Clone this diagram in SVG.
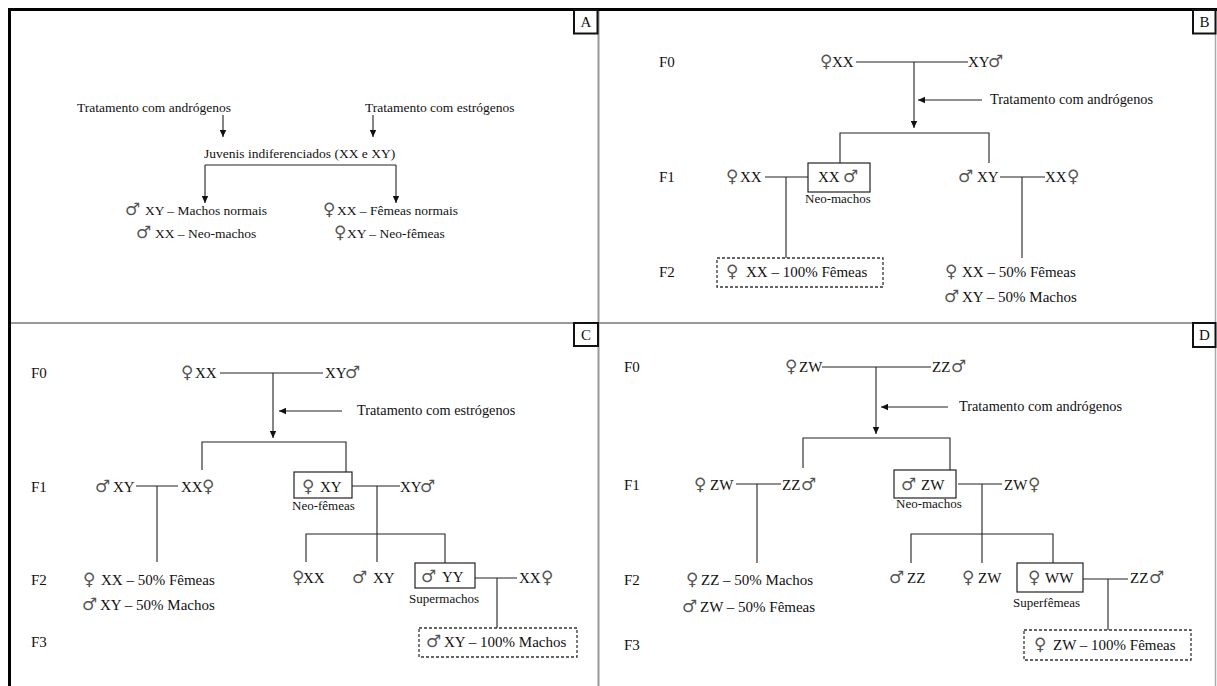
<svg xmlns="http://www.w3.org/2000/svg" width="1217" height="686" viewBox="0 0 1217 686">
<style>
.t{font-family:"Liberation Serif","Times New Roman",serif;font-size:15px;fill:#111}
.a{font-size:13.5px}
.tr{font-size:14.3px}
.sm{font-size:13px}
.sy{font-family:"DejaVu Sans",sans-serif;font-size:17px;fill:#555}
.ln{stroke:#222;stroke-width:1.1;fill:none}
.bx{fill:#fff;stroke:#222;stroke-width:1.2}
.db{fill:none;stroke:#333;stroke-width:1.3;stroke-dasharray:3 2}
.lb{fill:#fff;stroke:#111;stroke-width:2}
.lt{font-family:"Liberation Serif","Times New Roman",serif;font-size:15px;fill:#111;text-anchor:middle}
.fr{stroke:#999;stroke-width:2;fill:none}
</style>
<defs>
<marker id="ah" viewBox="0 0 7 7" refX="7" refY="3.5" markerWidth="7" markerHeight="7" markerUnits="userSpaceOnUse" orient="auto"><path d="M0,0.3 L7,3.5 L0,6.7 z" fill="#111"/></marker>
</defs>
<rect width="1217" height="686" fill="#fff"/>
<g id="frame">
<line class="fr" x1="598.5" y1="9" x2="598.5" y2="686"/>
<line class="fr" x1="9" y1="323" x2="1216" y2="323"/>
<line x1="1215.5" y1="9" x2="1215.5" y2="686" stroke="#aaa" stroke-width="1.5"/>
<line x1="8" y1="9.5" x2="1217" y2="9.5" stroke="#000" stroke-width="3"/>
<line x1="9.5" y1="8" x2="9.5" y2="686" stroke="#000" stroke-width="3"/>
</g>
<g id="connectors">
<!-- A -->
<line class="ln" x1="223" y1="115" x2="223" y2="137" marker-end="url(#ah)"/>
<line class="ln" x1="373" y1="115" x2="373" y2="137" marker-end="url(#ah)"/>
<line class="ln" x1="205" y1="165" x2="396" y2="165"/>
<line class="ln" x1="205" y1="165" x2="205" y2="203" marker-end="url(#ah)"/>
<line class="ln" x1="396" y1="165" x2="396" y2="203" marker-end="url(#ah)"/>
<!-- B -->
<line class="ln" x1="856" y1="62" x2="968" y2="62"/>
<line class="ln" x1="914" y1="62" x2="914" y2="128" marker-end="url(#ah)"/>
<line class="ln" x1="982" y1="100" x2="918" y2="100" marker-end="url(#ah)"/>
<path class="ln" d="M840,163 V133 H989 V163"/>
<line class="ln" x1="765" y1="177" x2="808" y2="177"/>
<line class="ln" x1="786" y1="177" x2="786" y2="258"/>
<line class="ln" x1="1000" y1="177" x2="1045" y2="177"/>
<line class="ln" x1="1022" y1="177" x2="1022" y2="258"/>
<!-- C -->
<line class="ln" x1="220" y1="373" x2="323" y2="373"/>
<line class="ln" x1="273" y1="373" x2="273" y2="438" marker-end="url(#ah)"/>
<line class="ln" x1="342" y1="411" x2="279" y2="411" marker-end="url(#ah)"/>
<path class="ln" d="M202,470 V442 H346 V472"/>
<line class="ln" x1="136" y1="486" x2="178" y2="486"/>
<line class="ln" x1="157" y1="486" x2="157" y2="562"/>
<line class="ln" x1="352" y1="486" x2="400" y2="486"/>
<line class="ln" x1="377" y1="486" x2="377" y2="562"/>
<path class="ln" d="M306,562 V534 H445 V563"/>
<line class="ln" x1="475" y1="578" x2="517" y2="578"/>
<line class="ln" x1="497" y1="578" x2="497" y2="628"/>
<!-- D -->
<line class="ln" x1="822" y1="367" x2="931" y2="367"/>
<line class="ln" x1="876" y1="367" x2="876" y2="434" marker-end="url(#ah)"/>
<line class="ln" x1="948" y1="407" x2="881" y2="407" marker-end="url(#ah)"/>
<path class="ln" d="M803,468 V438 H950 V470"/>
<line class="ln" x1="736" y1="484" x2="781" y2="484"/>
<line class="ln" x1="757" y1="484" x2="757" y2="563"/>
<line class="ln" x1="958" y1="484" x2="1002" y2="484"/>
<line class="ln" x1="982" y1="484" x2="982" y2="563"/>
<path class="ln" d="M911,563 V534 H1053 V563"/>
<line class="ln" x1="1083" y1="579" x2="1128" y2="579"/>
<line class="ln" x1="1108" y1="579" x2="1108" y2="630"/>
</g>
<g id="labelA"><rect class="lb" x="574" y="10" width="23.5" height="23.5"/><text class="lt" x="586" y="27">A</text></g>
<g id="labelB"><rect class="lb" x="1193" y="10" width="22.5" height="23.5"/><text class="lt" x="1204.5" y="27">B</text></g>
<g id="labelC"><rect class="lb" x="574" y="323" width="24" height="23"/><text class="lt" x="586" y="340">C</text></g>
<g id="labelD"><rect class="lb" x="1193" y="323" width="22.5" height="24"/><text class="lt" x="1204.5" y="340">D</text></g>
<!-- Panel A -->
<g id="a_trat_andr"><text class="t a" x="77" y="112">Tratamento com andrógenos</text></g>
<g id="a_trat_estr"><text class="t a" x="365" y="112">Tratamento com estrógenos</text></g>
<g id="a_juvenis"><text class="t a" x="204" y="158">Juvenis indiferenciados (XX e XY)</text></g>
<g id="a_machos"><text class="t a" y="215"><tspan class="sy" x="125">♂</tspan><tspan x="145">XY – Machos normais</tspan></text></g>
<g id="a_femeas"><text class="t a" y="215"><tspan class="sy" x="323">♀</tspan><tspan x="337">XX – Fêmeas normais</tspan></text></g>
<g id="a_neomachos"><text class="t a" y="238"><tspan class="sy" x="136">♂</tspan><tspan x="155">XX – Neo-machos</tspan></text></g>
<g id="a_neofemeas"><text class="t a" y="238"><tspan class="sy" x="334">♀</tspan><tspan x="347">XY – Neo-fêmeas</tspan></text></g>
<!-- Panel B -->
<g id="b_F0"><text class="t" x="659" y="67">F0</text></g>
<g id="b_F1"><text class="t" x="659" y="182">F1</text></g>
<g id="b_F2"><text class="t" x="659" y="277">F2</text></g>
<g id="b_f0_fem"><text class="t" y="67"><tspan class="sy" x="820">♀</tspan><tspan x="832">XX</tspan></text></g>
<g id="b_f0_male"><text class="t" y="67"><tspan x="968">XY</tspan><tspan class="sy" x="988">♂</tspan></text></g>
<g id="b_trat"><text class="t tr" x="990" y="104">Tratamento com andrógenos</text></g>
<g id="b_f1_fem"><text class="t" y="182"><tspan class="sy" x="726">♀</tspan><tspan x="740">XX</tspan></text></g>
<g id="b_neomacho"><rect class="bx" x="808" y="163" width="62" height="29"/><text class="t" y="182"><tspan x="818">XX</tspan><tspan class="sy" x="843">♂</tspan></text><text class="t sm" x="805" y="203">Neo-machos</text></g>
<g id="b_f1_male"><text class="t" y="182"><tspan class="sy" x="958">♂</tspan><tspan x="977">XY</tspan></text></g>
<g id="b_f1_fem2"><text class="t" y="182"><tspan x="1045">XX</tspan><tspan class="sy" x="1067">♀</tspan></text></g>
<g id="b_f2_100"><rect class="db" x="717" y="258" width="166" height="29"/><text class="t" y="277"><tspan class="sy" x="726">♀</tspan><tspan x="746">XX – 100% Fêmeas</tspan></text></g>
<g id="b_f2_50f"><text class="t" y="277"><tspan class="sy" x="945">♀</tspan><tspan x="962">XX – 50% Fêmeas</tspan></text></g>
<g id="b_f2_50m"><text class="t" y="302"><tspan class="sy" x="944">♂</tspan><tspan x="962">XY – 50% Machos</tspan></text></g>
<!-- Panel C -->
<g id="c_F0"><text class="t" x="31" y="378">F0</text></g>
<g id="c_F1"><text class="t" x="31" y="492">F1</text></g>
<g id="c_F2"><text class="t" x="31" y="585">F2</text></g>
<g id="c_F3"><text class="t" x="31" y="647">F3</text></g>
<g id="c_f0_fem"><text class="t" y="378"><tspan class="sy" x="181">♀</tspan><tspan x="195">XX</tspan></text></g>
<g id="c_f0_male"><text class="t" y="378"><tspan x="325">XY</tspan><tspan class="sy" x="345">♂</tspan></text></g>
<g id="c_trat"><text class="t tr" x="357" y="415">Tratamento com estrógenos</text></g>
<g id="c_f1_male"><text class="t" y="492"><tspan class="sy" x="95">♂</tspan><tspan x="113">XY</tspan></text></g>
<g id="c_f1_fem"><text class="t" y="492"><tspan x="181">XX</tspan><tspan class="sy" x="202">♀</tspan></text></g>
<g id="c_neofemea"><rect class="bx" x="294" y="472" width="58" height="26"/><text class="t" y="492"><tspan class="sy" x="302">♀</tspan><tspan x="320">XY</tspan></text><text class="t sm" x="292" y="510">Neo-fêmeas</text></g>
<g id="c_f1_male2"><text class="t" y="492"><tspan x="400">XY</tspan><tspan class="sy" x="420">♂</tspan></text></g>
<g id="c_f2_50f"><text class="t" y="585"><tspan class="sy" x="83">♀</tspan><tspan x="101">XX – 50% Fêmeas</tspan></text></g>
<g id="c_f2_50m"><text class="t" y="610"><tspan class="sy" x="82">♂</tspan><tspan x="100">XY – 50% Machos</tspan></text></g>
<g id="c_f2_xx"><text class="t" y="583"><tspan class="sy" x="292">♀</tspan><tspan x="303">XX</tspan></text></g>
<g id="c_f2_xy"><text class="t" y="583"><tspan class="sy" x="352">♂</tspan><tspan x="373">XY</tspan></text></g>
<g id="c_supermacho"><rect class="bx" x="415" y="563" width="60" height="25"/><text class="t" y="582"><tspan class="sy" x="421">♂</tspan><tspan x="442">YY</tspan></text><text class="t sm" x="409" y="603">Supermachos</text></g>
<g id="c_f2_xx2"><text class="t" y="583"><tspan x="519">XX</tspan><tspan class="sy" x="541">♀</tspan></text></g>
<g id="c_f3_100"><rect class="db" x="419" y="628" width="158" height="29"/><text class="t" y="647"><tspan class="sy" x="426">♂</tspan><tspan x="444">XY – 100% Machos</tspan></text></g>
<!-- Panel D -->
<g id="d_F0"><text class="t" x="624" y="372">F0</text></g>
<g id="d_F1"><text class="t" x="624" y="490">F1</text></g>
<g id="d_F2"><text class="t" x="624" y="585">F2</text></g>
<g id="d_F3"><text class="t" x="624" y="650">F3</text></g>
<g id="d_f0_fem"><text class="t" y="372"><tspan class="sy" x="785">♀</tspan><tspan x="799">ZW</tspan></text></g>
<g id="d_f0_male"><text class="t" y="372"><tspan x="932">ZZ</tspan><tspan class="sy" x="951">♂</tspan></text></g>
<g id="d_trat"><text class="t tr" x="959" y="411">Tratamento com andrógenos</text></g>
<g id="d_f1_fem"><text class="t" y="490"><tspan class="sy" x="694">♀</tspan><tspan x="710">ZW</tspan></text></g>
<g id="d_f1_male"><text class="t" y="490"><tspan x="782">ZZ</tspan><tspan class="sy" x="801">♂</tspan></text></g>
<g id="d_neomacho"><rect class="bx" x="894" y="470" width="62" height="28"/><text class="t" y="490"><tspan class="sy" x="901">♂</tspan><tspan x="921">ZW</tspan></text><text class="t sm" x="896" y="508">Neo-machos</text></g>
<g id="d_f1_fem2"><text class="t" y="490"><tspan x="1004">ZW</tspan><tspan class="sy" x="1028">♀</tspan></text></g>
<g id="d_f2_50m"><text class="t" y="585"><tspan class="sy" x="686">♀</tspan><tspan x="701">ZZ – 50% Machos</tspan></text></g>
<g id="d_f2_50f"><text class="t" y="612"><tspan class="sy" x="682">♂</tspan><tspan x="700">ZW – 50% Fêmeas</tspan></text></g>
<g id="d_f2_zz"><text class="t" y="583"><tspan class="sy" x="889">♂</tspan><tspan x="907">ZZ</tspan></text></g>
<g id="d_f2_zw"><text class="t" y="583"><tspan class="sy" x="962">♀</tspan><tspan x="978">ZW</tspan></text></g>
<g id="d_superfemea"><rect class="bx" x="1017" y="563" width="66" height="29"/><text class="t" y="583"><tspan class="sy" x="1028">♀</tspan><tspan x="1045">WW</tspan></text><text class="t sm" x="1013" y="607">Superfêmeas</text></g>
<g id="d_f2_zz2"><text class="t" y="583"><tspan x="1130">ZZ</tspan><tspan class="sy" x="1149">♂</tspan></text></g>
<g id="d_f3_100"><rect class="db" x="1024" y="630" width="167" height="30"/><text class="t" y="650"><tspan class="sy" x="1034">♀</tspan><tspan x="1053">ZW – 100% Fêmeas</tspan></text></g>
</svg>
